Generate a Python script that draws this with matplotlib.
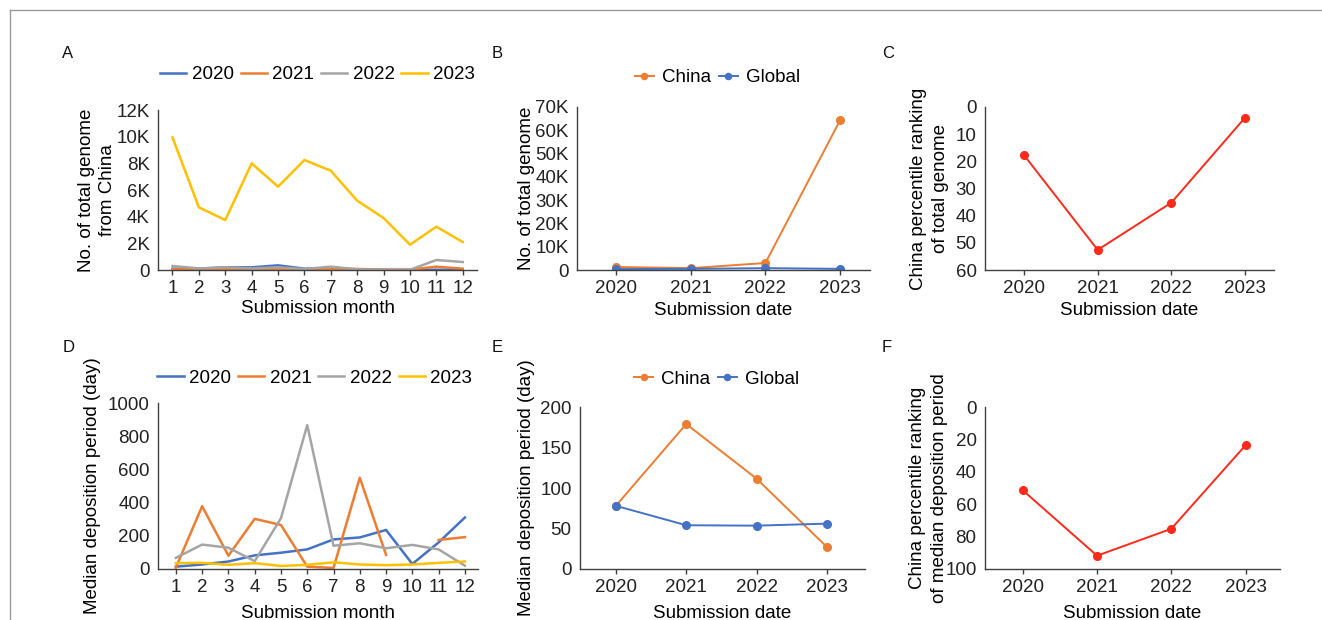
import numpy as np
import matplotlib
matplotlib.use('Agg')
import matplotlib.pyplot as plt
from matplotlib.ticker import FuncFormatter
from matplotlib.lines import Line2D

plt.rcParams['font.family'] = ['Liberation Sans', 'DejaVu Sans']
plt.rcParams['font.size'] = 13.5

# ---- data ----
months = list(range(1, 13))
years = ['2020', '2021', '2022', '2023']

# A: no. of genomes from China per submission month
genome_2020 = [100, 100, 200, 200, 350, 100, 150, 30, 10, 10, 20, 20]
genome_2021 = [50, 50, 50, 50, 100, 50, 100, 80, 30, 30, 250, 100]
genome_2022 = [300, 120, 200, 120, 200, 80, 250, 50, 20, 20, 750, 600]
genome_2023 = [9950, 4700, 3750, 8000, 6250, 8250, 7450, 5200, 3900, 1900, 3250, 2100]

# B: total genomes per year
total_china = [1300, 800, 3000, 64300]
total_global = [400, 500, 800, 500]

# C: China percentile ranking of total genome
rank_genome = [17.7, 52.6, 35.2, 3.9]

# D: median deposition period per month
dep_2020 = [14, 27, 45, 82, 98, 118, 178, 190, 235, 30, 160, 310]
dep_2021 = [8, 378, 80, 302, 265, 14, 6, 550, 85, np.nan, 175, 192]
dep_2022 = [67, 147, 128, 47, 306, 867, 140, 155, 125, 145, 118, 20]
dep_2023 = [35, 37, 25, 35, 18, 25, 40, 27, 23, 27, 37, 45]

# E: median deposition period per year
dep_china = [78, 179, 111.5, 27]
dep_global = [78, 54, 53.5, 56]

# F: China percentile ranking of median deposition period
rank_dep = [51.4, 91.8, 75.2, 23.6]

c2020, c2021, c2022, c2023 = '#4472C4', '#ED7D31', '#A5A5A5', '#FFC000'
red = '#FF2A1A'
spine_col = '#404040'

fig = plt.figure(figsize=(13.22, 6.2), dpi=100)

def style(ax):
    for s in ['top', 'right']:
        ax.spines[s].set_visible(False)
    for s in ['left', 'bottom']:
        ax.spines[s].set_color(spine_col)
        ax.spines[s].set_linewidth(1.0)
    ax.tick_params(axis='y', length=0, pad=6, labelsize=13.5, colors='#222222')
    ax.tick_params(axis='x', length=3.5, width=1.0, color=spine_col, pad=4,
                   labelsize=13.5, labelcolor='#222222')

kfmt = FuncFormatter(lambda v, p: '0' if v == 0 else f'{int(v / 1000)}K')

# A
axA = fig.add_axes([0.1195, 0.5645, 0.2415, 0.258])
for vals, c, lab in zip([genome_2020, genome_2021, genome_2022, genome_2023],
                        [c2020, c2021, c2022, c2023], years):
    axA.plot(months, vals, color=c, lw=1.8, label=lab)
axA.set_xlim(0.45, 12.55)
axA.set_ylim(0, 12000)
axA.set_xticks(months)
axA.set_yticks(range(0, 12001, 2000))
axA.yaxis.set_major_formatter(kfmt)
axA.set_xlabel('Submission month', labelpad=2)
axA.set_ylabel('No. of total genome\nfrom China', linespacing=1.35, labelpad=0)
style(axA)
axA.legend(loc='center', bbox_to_anchor=(0.5, 1.22), ncol=4, frameon=False,
           handlelength=1.4, handletextpad=0.3, columnspacing=0.35, borderpad=0)

# B
x4 = np.arange(4)
axB = fig.add_axes([0.4365, 0.5645, 0.2216, 0.263])
axB.plot(x4, total_china, color=c2021, lw=1.4, marker='o', ms=5.5, label='China')
axB.plot(x4, total_global, color=c2020, lw=1.4, marker='o', ms=5.5, label='Global')
axB.set_xlim(-0.52, 3.4)
axB.set_ylim(0, 70000)
axB.set_xticks(x4)
axB.set_xticklabels(years)
axB.set_yticks(range(0, 70001, 10000))
axB.yaxis.set_major_formatter(kfmt)
axB.set_xlabel('Submission date', labelpad=3)
axB.set_ylabel('No. of total genome', labelpad=0)
style(axB)
axB.legend(loc='center', bbox_to_anchor=(0.48, 1.18), ncol=2, frameon=False,
           handlelength=1.0, handletextpad=0.45, columnspacing=0.4, borderpad=0,
           markerscale=0.8)

# C
axC = fig.add_axes([0.745, 0.5645, 0.2186, 0.263])
axC.plot(x4, rank_genome, color=red, lw=1.4, marker='o', ms=5.5)
axC.set_xlim(-0.53, 3.39)
axC.set_ylim(60, 0)
axC.set_xticks(x4)
axC.set_xticklabels(years)
axC.set_yticks(range(0, 61, 10))
axC.set_xlabel('Submission date', labelpad=3)
axC.set_ylabel('China percentile ranking\nof total genome', linespacing=1.35, labelpad=5)
style(axC)

# D
axD = fig.add_axes([0.1195, 0.0823, 0.2421, 0.2677])
for vals, c, lab in zip([dep_2020, dep_2021, dep_2022, dep_2023],
                        [c2020, c2021, c2022, c2023], years):
    axD.plot(months, vals, color=c, lw=1.8, label=lab)
axD.set_xlim(0.32, 12.5)
axD.set_ylim(0, 1000)
axD.set_xticks(months)
axD.set_yticks(range(0, 1001, 200))
axD.set_xlabel('Submission month', labelpad=6)
axD.set_ylabel('Median deposition period (day)', labelpad=5)
style(axD)
axD.legend(loc='center', bbox_to_anchor=(0.49, 1.15), ncol=4, frameon=False,
           handlelength=1.4, handletextpad=0.3, columnspacing=0.35, borderpad=0)

# E
axE = fig.add_axes([0.4387, 0.0823, 0.2156, 0.2612])
axE.plot(x4, dep_china, color=c2021, lw=1.4, marker='o', ms=5.5, label='China')
axE.plot(x4, dep_global, color=c2020, lw=1.4, marker='o', ms=5.5, label='Global')
axE.set_xlim(-0.51, 3.54)
axE.set_ylim(0, 200)
axE.set_xticks(x4)
axE.set_xticklabels(years)
axE.set_yticks(range(0, 201, 50))
axE.set_xlabel('Submission date', labelpad=6)
axE.set_ylabel('Median deposition period (day)', labelpad=4)
style(axE)
axE.legend(loc='center', bbox_to_anchor=(0.48, 1.17), ncol=2, frameon=False,
           handlelength=1.0, handletextpad=0.45, columnspacing=0.4, borderpad=0,
           markerscale=0.8)

# F
axF = fig.add_axes([0.745, 0.0823, 0.223, 0.2612])
axF.plot(x4, rank_dep, color=red, lw=1.4, marker='o', ms=5.5)
axF.set_xlim(-0.51, 3.46)
axF.set_ylim(100, 0)
axF.set_xticks(x4)
axF.set_xticklabels(years)
axF.set_yticks(range(0, 101, 20))
axF.set_xlabel('Submission date', labelpad=6)
axF.set_ylabel('China percentile ranking\nof median deposition period', linespacing=1.35, labelpad=-2)
style(axF)

# panel letters
for lab, x, y in [('A', 0.047, 0.913), ('B', 0.372, 0.913), ('C', 0.667, 0.913),
                  ('D', 0.047, 0.44), ('E', 0.372, 0.44), ('F', 0.667, 0.44)]:
    fig.text(x, y, lab, fontsize=12, ha='left', va='center', color='#111111')

# thin border at top and left of the figure
fig.add_artist(Line2D([10 / 1322, 1], [1 - 10 / 620, 1 - 10 / 620],
                      transform=fig.transFigure, color='#9a9a9a', lw=1.0))
fig.add_artist(Line2D([10 / 1322, 10 / 1322], [0, 1 - 10 / 620],
                      transform=fig.transFigure, color='#9a9a9a', lw=1.0))

fig.savefig('out.png', dpi=100)
